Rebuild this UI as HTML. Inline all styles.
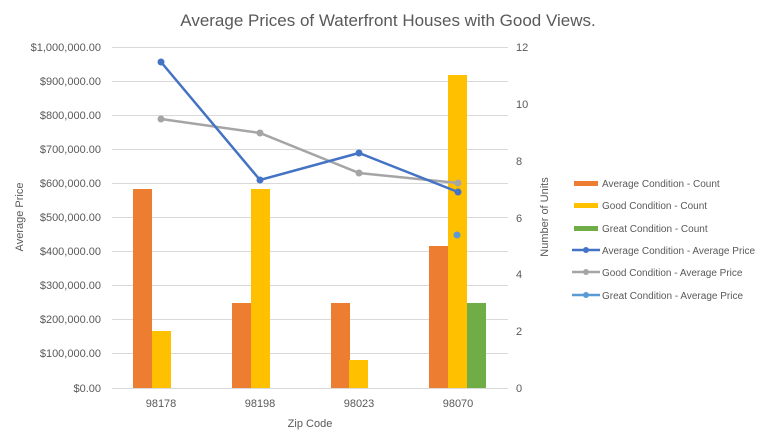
<!DOCTYPE html>
<html><head><style>body{margin:0;background:#fff}svg{display:block}text{font-family:"Liberation Sans",sans-serif;fill:#595959}</style></head><body>
<svg width="769" height="438" xmlns="http://www.w3.org/2000/svg">
<text x="388" y="26" font-size="17" text-anchor="middle">Average Prices of Waterfront Houses with Good Views.</text>
<g stroke="#d9d9d9" stroke-width="1">
<line x1="112" x2="508" y1="47.5" y2="47.5"/><line x1="112" x2="508" y1="81.5" y2="81.5"/><line x1="112" x2="508" y1="115.5" y2="115.5"/><line x1="112" x2="508" y1="149.5" y2="149.5"/><line x1="112" x2="508" y1="183.5" y2="183.5"/><line x1="112" x2="508" y1="217.5" y2="217.5"/><line x1="112" x2="508" y1="251.5" y2="251.5"/><line x1="112" x2="508" y1="285.5" y2="285.5"/><line x1="112" x2="508" y1="319.5" y2="319.5"/><line x1="112" x2="508" y1="353.5" y2="353.5"/><line x1="112" x2="508" y1="388.5" y2="388.5"/>
</g>
<g font-size="11" text-anchor="end">
<text x="101" y="51">$1,000,000.00</text><text x="101" y="85">$900,000.00</text><text x="101" y="119">$800,000.00</text><text x="101" y="153">$700,000.00</text><text x="101" y="187">$600,000.00</text><text x="101" y="221">$500,000.00</text><text x="101" y="255">$400,000.00</text><text x="101" y="289">$300,000.00</text><text x="101" y="323">$200,000.00</text><text x="101" y="357">$100,000.00</text><text x="101" y="392">$0.00</text>
</g>
<g font-size="11">
<text x="516" y="51">12</text><text x="516" y="108">10</text><text x="516" y="165">8</text><text x="516" y="222">6</text><text x="516" y="278">4</text><text x="516" y="335">2</text><text x="516" y="392">0</text>
</g>
<g font-size="11" text-anchor="middle">
<text x="161" y="407">98178</text><text x="260" y="407">98198</text><text x="359" y="407">98023</text><text x="458" y="407">98070</text>
<text x="310" y="427">Zip Code</text>
<text transform="translate(23,217) rotate(-90)">Average Price</text>
<text transform="translate(548,217) rotate(-90)">Number of Units</text>
</g>
<g fill="#ed7d31"><rect x="133" y="189" width="19" height="199"/><rect x="232" y="303" width="19" height="85"/><rect x="331" y="303" width="19" height="85"/><rect x="429" y="246" width="19" height="142"/></g>
<g fill="#ffc000"><rect x="152" y="331" width="19" height="57"/><rect x="251" y="189" width="19" height="199"/><rect x="349" y="360" width="19" height="28"/><rect x="448" y="75" width="19" height="313"/></g>
<rect x="467" y="303" width="19" height="85" fill="#70ad47"/>
<polyline points="161,119 260,133 359,173 458,183" fill="none" stroke="#a5a5a5" stroke-width="2.5"/>
<g fill="#a5a5a5"><circle cx="161" cy="119" r="3.5"/><circle cx="260" cy="133" r="3.5"/><circle cx="359" cy="173" r="3.5"/><circle cx="458" cy="183" r="3.5"/></g>
<polyline points="161,62 260,180 359,153 458,192" fill="none" stroke="#4472c4" stroke-width="2.5"/>
<g fill="#4472c4"><circle cx="161" cy="62" r="3.5"/><circle cx="260" cy="180" r="3.5"/><circle cx="359" cy="153" r="3.5"/><circle cx="458" cy="192" r="3.5"/></g>
<circle cx="457" cy="235" r="3.5" fill="#5b9bd5"/>
<g font-size="10">
<rect x="574" y="181" width="24" height="5" fill="#ed7d31"/><text x="602" y="187">Average Condition - Count</text>
<rect x="574" y="203" width="24" height="5" fill="#ffc000"/><text x="602" y="209">Good Condition - Count</text>
<rect x="574" y="226" width="24" height="5" fill="#70ad47"/><text x="602" y="232">Great Condition - Count</text>
<line x1="572" x2="600" y1="250" y2="250" stroke="#4472c4" stroke-width="2.5"/><circle cx="586" cy="250" r="3" fill="#4472c4"/><text x="602" y="254">Average Condition - Average Price</text>
<line x1="572" x2="600" y1="272" y2="272" stroke="#a5a5a5" stroke-width="2.5"/><circle cx="586" cy="272" r="3" fill="#a5a5a5"/><text x="602" y="276">Good Condition - Average Price</text>
<line x1="572" x2="600" y1="295" y2="295" stroke="#5b9bd5" stroke-width="2.5"/><circle cx="586" cy="295" r="3" fill="#5b9bd5"/><text x="602" y="299">Great Condition - Average Price</text>
</g>
</svg>
</body></html>
